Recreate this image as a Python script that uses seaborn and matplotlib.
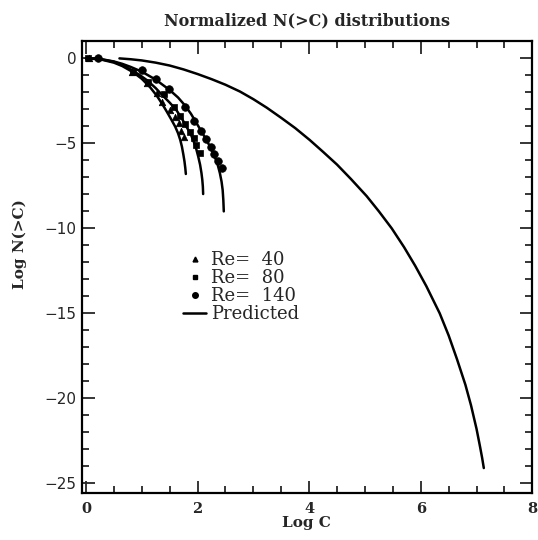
import matplotlib
matplotlib.use("Agg")
import matplotlib.pyplot as plt
import seaborn as sns
from matplotlib.ticker import MultipleLocator
from matplotlib.lines import Line2D

# measured points (Log C, Log N(>C))
re40_x = [0.05, 0.82, 1.09, 1.27, 1.37, 1.50, 1.60, 1.67, 1.71, 1.76]
re40_y = [0.0, -0.78, -1.47, -2.06, -2.55, -3.04, -3.47, -3.82, -4.25, -4.65]
re80_x = [0.04, 0.85, 1.12, 1.39, 1.57, 1.69, 1.78, 1.86, 1.94, 1.98, 2.04]
re80_y = [0.0, -0.82, -1.37, -2.10, -2.84, -3.39, -3.88, -4.31, -4.71, -5.10, -5.55]
re140_x = [0.22, 1.00, 1.25, 1.48, 1.77, 1.94, 2.07, 2.16, 2.24, 2.30, 2.36, 2.43]
re140_y = [0.0, -0.69, -1.22, -1.82, -2.84, -3.69, -4.25, -4.76, -5.20, -5.63, -6.02, -6.47]

# fitted curves
fit40_x = [0.0, 0.25, 0.5, 0.65, 0.8, 0.9, 1.0, 1.15, 1.27, 1.37, 1.45, 1.53, 1.6, 1.65, 1.69, 1.72, 1.745, 1.765, 1.78, 1.79]
fit40_y = [0.0, -0.05, -0.25, -0.45, -0.73, -0.95, -1.2, -1.7, -2.2, -2.7, -3.14, -3.6, -4.02, -4.4, -4.8, -5.2, -5.65, -6.05, -6.45, -6.8]
fit80_x = [0.0, 0.25, 0.5, 0.65, 0.8, 0.95, 1.1, 1.25, 1.35, 1.5, 1.62, 1.72, 1.8, 1.87, 1.92, 1.97, 2.01, 2.045, 2.07, 2.085, 2.095, 2.10]
fit80_y = [0.0, -0.04, -0.2, -0.4, -0.65, -0.95, -1.3, -1.75, -2.1, -2.6, -3.04, -3.55, -4.02, -4.4, -4.8, -5.25, -5.75, -6.25, -6.75, -7.15, -7.55, -7.98]
fit140_x = [0.0, 0.25, 0.5, 0.65, 0.8, 1.0, 1.25, 1.5, 1.65, 1.77, 1.88, 1.98, 2.07, 2.16, 2.24, 2.31, 2.36, 2.40, 2.43, 2.45, 2.462, 2.47]
fit140_y = [0.0, -0.03, -0.18, -0.32, -0.5, -0.78, -1.25, -1.86, -2.3, -2.75, -3.25, -3.8, -4.3, -4.8, -5.3, -5.8, -6.25, -6.75, -7.25, -7.75, -8.35, -9.0]

# predicted curve
pred_x = [0.6, 0.8, 1.0, 1.25, 1.5, 1.75, 2.0, 2.25, 2.5, 2.76, 3.0, 3.24, 3.5, 3.75, 4.01, 4.25,
          4.5, 4.75, 5.03, 5.25, 5.48, 5.7, 5.9, 6.1, 6.34, 6.5, 6.65, 6.8, 6.9, 7.0, 7.06, 7.1, 7.13]
pred_y = [0.0, -0.05, -0.12, -0.25, -0.42, -0.65, -0.92, -1.22, -1.55, -1.95, -2.4, -2.9, -3.5, -4.1, -4.8, -5.5,
          -6.25, -7.1, -8.1, -9.0, -10.0, -11.1, -12.2, -13.4, -15.0, -16.3, -17.7, -19.2, -20.4, -21.8, -22.8, -23.5, -24.1]

legend_labels = ["Re=  40", "Re=  80", "Re=  140", "Predicted"]

sns.set_style("ticks")
plt.rcParams["font.family"] = ["DejaVu Serif"]

fig = plt.figure(figsize=(5.38, 5.40), dpi=100)
ax = fig.add_axes([0.1515, 0.0876, 0.838, 0.837])

for fx, fy in [(fit40_x, fit40_y), (fit80_x, fit80_y), (fit140_x, fit140_y), (pred_x, pred_y)]:
    sns.lineplot(x=fx, y=fy, ax=ax, color="black", linewidth=1.8,
                 estimator=None, sort=False, legend=False)

for mx, my, mk, ms in [(re40_x, re40_y, "^", 22), (re80_x, re80_y, "s", 18), (re140_x, re140_y, "o", 30)]:
    sns.scatterplot(x=mx, y=my, ax=ax, marker=mk, s=ms, color="black",
                    edgecolor="black", linewidth=0.5, legend=False)

ax.set_xlim(-0.08, 8.0)
ax.set_ylim(-25.55, 1.04)
ax.xaxis.set_major_locator(MultipleLocator(2))
ax.xaxis.set_minor_locator(MultipleLocator(0.5))
ax.yaxis.set_major_locator(MultipleLocator(5))
ax.yaxis.set_minor_locator(MultipleLocator(1))
ax.tick_params(which="both", direction="in", top=True, right=True, width=1.3)
ax.tick_params(which="major", length=9)
ax.tick_params(which="minor", length=5)
ax.tick_params(axis="x", pad=7)
for t in ax.get_xticklabels():
    t.set_fontweight("bold")
    t.set_fontsize(10.5)
for t in ax.get_yticklabels():
    t.set_family("DejaVu Sans")
    t.set_fontsize(11)
for s in ax.spines.values():
    s.set_linewidth(1.6)
    s.set_color("black")

ax.set_title("Normalized N(>C) distributions", fontsize=11.5, fontweight="bold", pad=11)
ax.set_xlabel("Log C", fontsize=11, fontweight="bold", labelpad=0)
ax.set_ylabel("Log N(>C)", fontsize=11, fontweight="bold", labelpad=0)
ax.yaxis.set_label_coords(-0.12, 0.55)

handles = [
    Line2D([], [], marker="^", linestyle="none", color="black", markersize=3.5),
    Line2D([], [], marker="s", linestyle="none", color="black", markersize=3.5),
    Line2D([], [], marker="o", linestyle="none", color="black", markersize=4),
    Line2D([], [], color="black", linewidth=1.8),
]
ax.legend(handles, legend_labels, loc="upper left", bbox_to_anchor=(0.225, 0.535),
          frameon=False, fontsize=13, handlelength=1.3, handletextpad=0.25,
          labelspacing=0.0, borderpad=0, borderaxespad=0)

fig.savefig("out.png", dpi=100)
